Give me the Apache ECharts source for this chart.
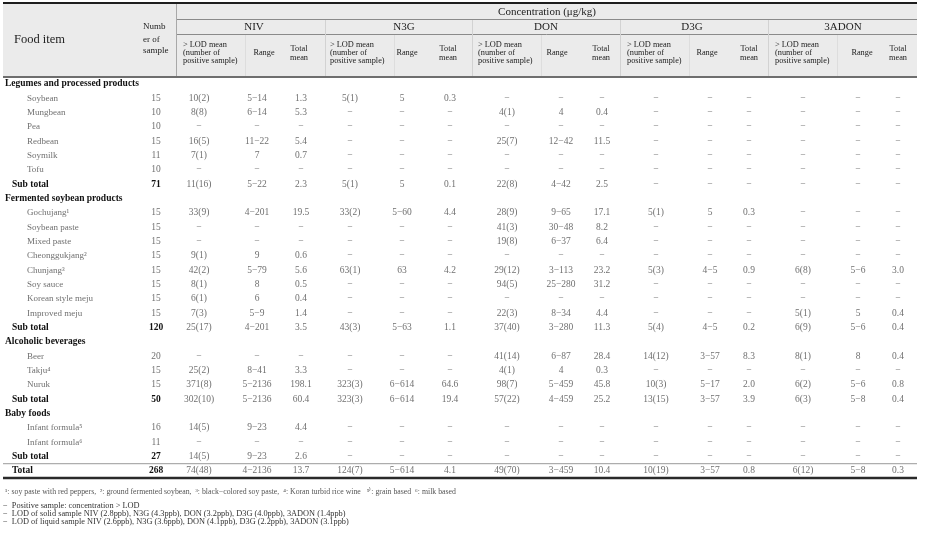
<!DOCTYPE html>
<html><head><meta charset="utf-8">
<script src="https://cdn.jsdelivr.net/npm/echarts@6/dist/echarts.min.js"></script>
<style>html,body{margin:0;padding:0;background:#fff}#c{width:926px;height:539px}</style>
</head><body><div id="c"></div>
<script>
// ---------------- DATA ----------------
const toxins = ['NIV', 'N3G', 'DON', 'D3G', '3ADON'];
const foodItems = [
  'Legumes and processed products', 'Soybean', 'Mungbean', 'Pea', 'Redbean', 'Soymilk', 'Tofu', 'Sub total',
  'Fermented soybean products', 'Gochujang¹', 'Soybean paste', 'Mixed paste', 'Cheonggukjang²', 'Chunjang³',
  'Soy sauce', 'Korean style meju', 'Improved meju', 'Sub total',
  'Alcoholic beverages', 'Beer', 'Takju⁴', 'Nuruk', 'Sub total',
  'Baby foods', 'Infant formula⁵', 'Infant formula⁶', 'Sub total', 'Total'
];
const rowKinds = [
  'section', 'item', 'item', 'item', 'item', 'item', 'item', 'sub',
  'section', 'item', 'item', 'item', 'item', 'item', 'item', 'item', 'item', 'sub',
  'section', 'item', 'item', 'item', 'sub',
  'section', 'item', 'item', 'sub', 'total'
];
const sampleCounts = ['', 15, 10, 10, 15, 11, 10, 71, '', 15, 15, 15, 15, 15, 15, 15, 15, 120, '', 20, 15, 15, 50, '', 16, 11, 27, 268];
const E = ['−', '−', '−'];
// each entry: [> LOD mean (number of positive sample), range, total mean]
const niv = [null, ['10(2)', '5−14', '1.3'], ['8(8)', '6−14', '5.3'], E, ['16(5)', '11−22', '5.4'], ['7(1)', '7', '0.7'], E, ['11(16)', '5−22', '2.3'],
  null, ['33(9)', '4−201', '19.5'], E, E, ['9(1)', '9', '0.6'], ['42(2)', '5−79', '5.6'], ['8(1)', '8', '0.5'], ['6(1)', '6', '0.4'], ['7(3)', '5−9', '1.4'], ['25(17)', '4−201', '3.5'],
  null, E, ['25(2)', '8−41', '3.3'], ['371(8)', '5−2136', '198.1'], ['302(10)', '5−2136', '60.4'],
  null, ['14(5)', '9−23', '4.4'], E, ['14(5)', '9−23', '2.6'], ['74(48)', '4−2136', '13.7']];
const n3g = [null, ['5(1)', '5', '0.3'], E, E, E, E, E, ['5(1)', '5', '0.1'],
  null, ['33(2)', '5−60', '4.4'], E, E, E, ['63(1)', '63', '4.2'], E, E, E, ['43(3)', '5−63', '1.1'],
  null, E, E, ['323(3)', '6−614', '64.6'], ['323(3)', '6−614', '19.4'],
  null, E, E, E, ['124(7)', '5−614', '4.1']];
const don = [null, E, ['4(1)', '4', '0.4'], E, ['25(7)', '12−42', '11.5'], E, E, ['22(8)', '4−42', '2.5'],
  null, ['28(9)', '9−65', '17.1'], ['41(3)', '30−48', '8.2'], ['19(8)', '6−37', '6.4'], E, ['29(12)', '3−113', '23.2'], ['94(5)', '25−280', '31.2'], E, ['22(3)', '8−34', '4.4'], ['37(40)', '3−280', '11.3'],
  null, ['41(14)', '6−87', '28.4'], ['4(1)', '4', '0.3'], ['98(7)', '5−459', '45.8'], ['57(22)', '4−459', '25.2'],
  null, E, E, E, ['49(70)', '3−459', '10.4']];
const d3g = [null, E, E, E, E, E, E, E,
  null, ['5(1)', '5', '0.3'], E, E, E, ['5(3)', '4−5', '0.9'], E, E, E, ['5(4)', '4−5', '0.2'],
  null, ['14(12)', '3−57', '8.3'], E, ['10(3)', '5−17', '2.0'], ['13(15)', '3−57', '3.9'],
  null, E, E, E, ['10(19)', '3−57', '0.8']];
const adon3 = [null, E, E, E, E, E, E, E,
  null, E, E, E, E, ['6(8)', '5−6', '3.0'], E, E, ['5(1)', '5', '0.4'], ['6(9)', '5−6', '0.4'],
  null, ['8(1)', '8', '0.4'], E, ['6(2)', '5−6', '0.8'], ['6(3)', '5−8', '0.4'],
  null, E, E, E, ['6(12)', '5−8', '0.3']];
const toxinValues = [niv, n3g, don, d3g, adon3];
const headerFood = 'Food item';
const headerCount = ['Numb', 'er of', 'sample'];
const headerConc = 'Concentration (μg/kg)';
const headerMean = ['> LOD mean', '(number of', 'positive sample)'];
const headerRange = 'Range';
const headerTotal = ['Total', 'mean'];
const footnoteLine = '¹: soy paste with red peppers,  ²: ground fermented soybean,  ³: black−colored soy paste,  ⁴: Koran turbid rice wine   ⁵⁾: grain based  ⁶: milk based';
const noteLines = [
  '−  Positive sample: concentration > LOD',
  '−  LOD of solid sample NIV (2.8ppb), N3G (4.3ppb), DON (3.2ppb), D3G (4.0ppb), 3ADON (1.4ppb)',
  '−  LOD of liquid sample NIV (2.6ppb), N3G (3.6ppb), DON (4.1ppb), D3G (2.2ppb), 3ADON (3.1ppb)'
];

// ---------------- LAYOUT ----------------
const FONT = '"Liberation Serif","Times New Roman",serif';
const L = {
  W: 926, H: 539,
  tableL: 3, tableR: 917,
  headBottom: 77,
  bodyTop: 76.8, rowH: 14.33,
  labelX: { section: 5, item: 27, sub: 12, total: 12 },
  countX: 156,
  colX: [[199, 257, 301], [350, 402, 450], [507, 561, 602], [656, 710, 749], [803, 858, 898]],
  groupStart: [176, 325, 472, 620, 768],
  groupTitleX: [254, 404, 546, 692, 843],
  meanHeadX: [183, 330, 478, 627, 775],
  rangeHeadX: [264, 407, 557, 707, 862],
  totalHeadX: [299, 448, 601, 749, 898],
  subSepX: [245, 394, 541, 689, 837]
};
function font(size, bold) { return (bold ? 'bold ' : '') + size + 'px ' + FONT; }

// ---------------- BODY CELLS ----------------
const bodyCells = [];
foodItems.forEach((name, r) => {
  const kind = rowKinds[r];
  const strong = kind !== 'item';
  bodyCells.push({ value: [L.labelX[kind], r], text: name, align: 'left',
    font: font(strong ? 9.5 : 9, strong), fill: strong ? '#111' : '#707070' });
  if (sampleCounts[r] !== '') {
    const b = kind === 'sub' || kind === 'total';
    bodyCells.push({ value: [L.countX, r], text: String(sampleCounts[r]), align: 'center',
      font: font(9.5, b), fill: b ? '#111' : '#707070' });
  }
  toxinValues.forEach((arr, g) => {
    const v = arr[r];
    if (!v) return;
    v.forEach((t, j) => bodyCells.push({ value: [L.colX[g][j], r], text: t, align: 'center',
      font: font(9.5, false), fill: '#707070' }));
  });
});

// ---------------- HEADER MARKS ----------------
const head = [];
head.push({ kind: 'rect', p: [L.tableL, 4, L.tableR, L.headBottom], fill: '#ebebeb' });
head.push({ kind: 'line', p: [L.tableL, 3, L.tableR, 3], w: 2, c: '#1e1e1e' });
head.push({ kind: 'line', p: [176, 19.5, L.tableR, 19.5], w: 1, c: '#8a8a8a' });
head.push({ kind: 'line', p: [176, 34.5, L.tableR, 34.5], w: 1, c: '#8a8a8a' });
head.push({ kind: 'line', p: [176.5, 4, 176.5, L.headBottom], w: 1, c: '#a8a8a8' });
L.groupStart.slice(1).forEach(x => head.push({ kind: 'line', p: [x + 0.5, 20, x + 0.5, L.headBottom], w: 1, c: '#d2d2d2' }));
L.subSepX.forEach(x => head.push({ kind: 'line', p: [x + 0.5, 35, x + 0.5, L.headBottom], w: 1, c: '#dddddd' }));
head.push({ kind: 'line', p: [L.tableL, 77, L.tableR, 77], w: 2, c: '#6e6e6e' });
head.push({ kind: 'text', p: [14, 40], text: headerFood, font: font(12.5), align: 'left' });
headerCount.forEach((t, i) => head.push({ kind: 'text', p: [143, [27, 40, 51][i]], text: t, font: font(9), align: 'left' }));
head.push({ kind: 'text', p: [547, 12.5], text: headerConc, font: font(11), align: 'center' });
toxins.forEach((t, g) => {
  head.push({ kind: 'text', p: [L.groupTitleX[g], 27], text: t, font: font(11), align: 'center' });
  headerMean.forEach((m, i) => head.push({ kind: 'text', p: [L.meanHeadX[g], [45, 53, 61][i]], text: m, font: font(8.3), align: 'left' }));
  head.push({ kind: 'text', p: [L.rangeHeadX[g], 53], text: headerRange, font: font(8.3), align: 'center' });
  headerTotal.forEach((m, i) => head.push({ kind: 'text', p: [L.totalHeadX[g], [49, 58][i]], text: m, font: font(8.3), align: 'center' }));
});

// ---------------- CHART ----------------
const chart = echarts.init(document.getElementById('c'), null, { renderer: 'canvas' });
const option = {
  animation: false,
  backgroundColor: '#fff',
  title: [
    { text: footnoteLine, left: 5, top: 488, padding: 0,
      textStyle: { fontFamily: FONT, fontSize: 7.8, fontWeight: 'normal', color: '#555', lineHeight: 8 } },
    ...noteLines.map((t, i) => ({ text: t, left: 3, top: 502 + i * 8, padding: 0,
      textStyle: { fontFamily: FONT, fontSize: 8.3, fontWeight: 'normal', color: '#333', lineHeight: 8 } }))
  ],
  grid: [
    { left: 0, right: 0, top: 0, bottom: 0 },
    { left: 0, right: 0, top: L.bodyTop, height: L.rowH * foodItems.length }
  ],
  xAxis: [
    { type: 'value', gridIndex: 0, min: 0, max: L.W, show: false },
    { type: 'value', gridIndex: 1, min: 0, max: L.W, show: false }
  ],
  yAxis: [
    { type: 'value', gridIndex: 0, min: 0, max: L.H, inverse: true, show: false },
    { type: 'category', gridIndex: 1, data: foodItems.map((f, i) => i), inverse: true, show: false }
  ],
  series: [
    {
      type: 'custom', xAxisIndex: 0, yAxisIndex: 0, clip: false, silent: true,
      data: head.map((h, i) => [i]),
      renderItem: (params, api) => {
        const h = head[params.dataIndex];
        if (h.kind === 'text') {
          const pt = api.coord(h.p);
          return { type: 'text', x: pt[0], y: pt[1],
            style: { text: h.text, font: h.font, fill: '#222', textAlign: h.align, textVerticalAlign: 'middle' } };
        }
        const a = api.coord([h.p[0], h.p[1]]), b = api.coord([h.p[2], h.p[3]]);
        if (h.kind === 'rect') {
          return { type: 'rect', shape: { x: a[0], y: a[1], width: b[0] - a[0], height: b[1] - a[1] }, style: { fill: h.fill } };
        }
        return { type: 'line', shape: { x1: a[0], y1: a[1], x2: b[0], y2: b[1] }, style: { stroke: h.c, lineWidth: h.w } };
      }
    },
    {
      type: 'custom', xAxisIndex: 1, yAxisIndex: 1, clip: false, silent: true,
      data: [[foodItems.length - 1, -1, 1, '#9a9a9a'], [foodItems.length - 1, 1, 2.5, '#2a2a2a']],
      renderItem: (params, api) => {
        const c = api.coord([0, api.value(0)]);
        const half = api.size([0, 1])[1] / 2;
        const y = c[1] + api.value(1) * half;
        const a = api.coord([L.tableL, api.value(0)]), b = api.coord([L.tableR, api.value(0)]);
        return { type: 'line', shape: { x1: a[0], y1: y, x2: b[0], y2: y }, style: { stroke: api.value(3), lineWidth: api.value(2) } };
      }
    },
    {
      type: 'custom', xAxisIndex: 1, yAxisIndex: 1, clip: false, silent: true,
      data: bodyCells.map(c => c.value),
      renderItem: (params, api) => {
        const c = bodyCells[params.dataIndex];
        const pt = api.coord([api.value(0), api.value(1)]);
        return { type: 'text', x: pt[0], y: pt[1],
          style: { text: c.text, font: c.font, fill: c.fill, textAlign: c.align, textVerticalAlign: 'middle' } };
      }
    }
  ]
};
chart.setOption(option);
</script>
</body></html>
